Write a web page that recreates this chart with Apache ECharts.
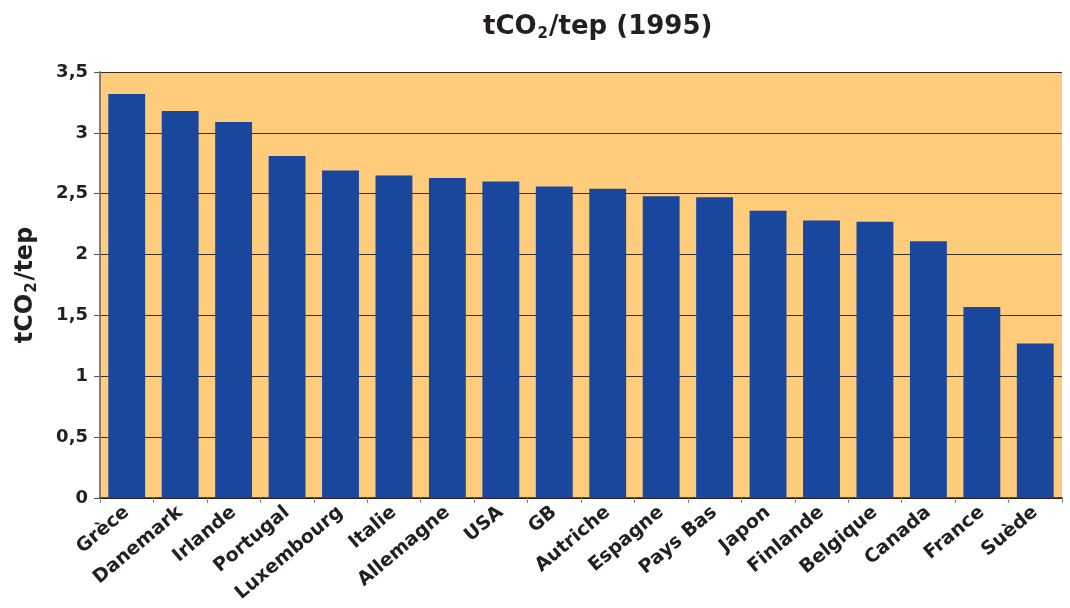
<!DOCTYPE html>
<html>
<head>
<meta charset="utf-8">
<script src="https://cdn.jsdelivr.net/npm/echarts@6/dist/echarts.min.js"></script>
<style>
  html, body { margin: 0; padding: 0; background: #fff; }
  #chart { width: 1070px; height: 608px; }
</style>
</head>
<body>
<div id="chart"></div>
<script>
const countries = ['Grèce', 'Danemark', 'Irlande', 'Portugal', 'Luxembourg', 'Italie', 'Allemagne', 'USA', 'GB',
  'Autriche', 'Espagne', 'Pays Bas', 'Japon', 'Finlande', 'Belgique', 'Canada', 'France', 'Suède']
const values = [3.32, 3.18, 3.09, 2.81, 2.69, 2.65, 2.63, 2.60, 2.56,
  2.54, 2.48, 2.47, 2.36, 2.28, 2.27, 2.11, 1.57, 1.27]

const font = 'DejaVu Sans, Liberation Sans, sans-serif'
const ink = '#231f20'
const chart = echarts.init(document.getElementById('chart'))
chart.setOption({
  backgroundColor: '#fff',
  animation: false,
  title: {
    text: '{a|tCO}{s|2}{a|/tep (1995)}',
    left: 478,
    top: 8,
    textStyle: {
      rich: {
        a: { fontFamily: font, fontWeight: 'bold', fontSize: 26, color: ink },
        s: { fontFamily: font, fontWeight: 'bold', fontSize: 15, color: ink, padding: [14, 1, 0, 1] }
      }
    }
  },
  grid: {
    left: 100,
    right: 8,
    top: 72,
    bottom: 110,
    show: true,
    backgroundColor: '#ffcc7c',
    borderWidth: 0
  },
  xAxis: {
    type: 'category',
    data: countries,
    axisLine: { lineStyle: { color: ink, width: 1.5 } },
    axisTick: { show: true, length: 5, lineStyle: { color: '#888' } },
    axisLabel: {
      rotate: 40,
      interval: 0,
      margin: 12,
      fontFamily: font,
      fontWeight: 'bold',
      fontSize: 19,
      color: ink
    }
  },
  yAxis: {
    type: 'value',
    min: 0,
    max: 3.5,
    interval: 0.5,
    name: '{a|tCO}{s|2}{a|/tep}',
    nameLocation: 'middle',
    nameGap: 60,
    nameTextStyle: {
      rich: {
        a: { fontFamily: font, fontWeight: 'bold', fontSize: 24, color: ink },
        s: { fontFamily: font, fontWeight: 'bold', fontSize: 15, color: ink, padding: [13, 2, 0, 1] }
      }
    },
    axisLine: { show: true, lineStyle: { color: '#8a7d6a', width: 2 } },
    axisTick: { show: true, length: 6, lineStyle: { color: '#555' } },
    axisLabel: {
      margin: 12,
      fontFamily: font,
      fontWeight: 'bold',
      fontSize: 18,
      color: ink,
      formatter: v => String(v).replace('.', ',')
    },
    splitLine: { lineStyle: { color: '#3a3020', width: 1 } }
  },
  series: [{
    type: 'bar',
    data: values,
    barCategoryGap: '31%',
    itemStyle: { color: '#1a479e' }
  }]
})
</script>
</body>
</html>
